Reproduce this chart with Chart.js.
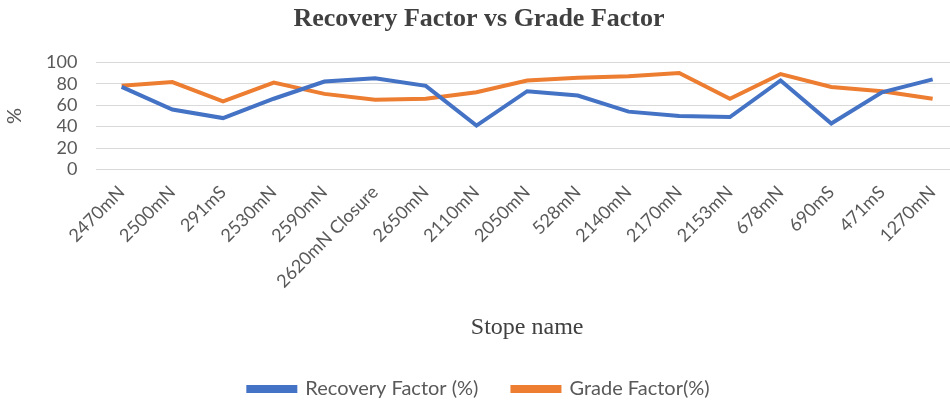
<!DOCTYPE html>
<html>
<head>
<meta charset="utf-8">
<script src="https://cdn.jsdelivr.net/npm/chart.js@4.4.1/dist/chart.umd.min.js"></script>
<style>
  html, body { margin: 0; padding: 0; background: #fff; overflow: hidden; }
  #wrap { width: 960px; height: 402px; }
</style>
</head>
<body>
<div id="wrap"><canvas id="grafico" width="960" height="402"></canvas></div>
<script>
const stopes = ['2470mN', '2500mN', '291mS', '2530mN', '2590mN', '2620mN Closure', '2650mN', '2110mN',
  '2050mN', '528mN', '2140mN', '2170mN', '2153mN', '678mN', '690mS', '471mS', '1270mN']
const recovery = [77, 56, 48, 66, 82, 85, 78, 41, 73, 69, 54, 50, 49, 83, 43, 72, 84]
const grade = [78, 81.5, 63.5, 81, 70.5, 65, 66, 72, 83, 85.5, 87, 90, 66, 89, 77, 73, 66]
const yTicks = [0, 20, 40, 60, 80, 100]

const letra = 'Lato, "Noto Sans", sans-serif'
const gris = '#595959'

// la leyenda queda pegada abajo, con menos alto que el que calcula chart.js
const leyendaAbajo = {
  id: 'leyendaAbajo',
  beforeInit(chart) {
    const fitOriginal = chart.legend.fit
    chart.legend.fit = function () {
      fitOriginal.call(this)
      this.height = 57
    }
  }
}

const ctx = document.getElementById('grafico').getContext('2d')
const myChart = new Chart(ctx, {
  type: 'line',
  data: {
    labels: stopes,
    datasets: [
      {
        label: 'Recovery Factor (%)',
        data: recovery,
        borderColor: '#4472C4',
        backgroundColor: '#4472C4',
        borderWidth: 4,
        pointRadius: 0,
        tension: 0
      },
      {
        label: 'Grade Factor(%)',
        data: grade,
        borderColor: '#ED7D31',
        backgroundColor: '#ED7D31',
        borderWidth: 4,
        pointRadius: 0,
        tension: 0
      }
    ]
  },
  options: {
    responsive: false,
    animation: false,
    layout: { padding: { left: 0, right: 2, top: 4, bottom: 0 } },
    plugins: {
      title: {
        display: true,
        text: 'Recovery Factor vs Grade Factor',
        color: '#404040',
        font: { family: '"Liberation Serif", serif', size: 26, weight: 'bold' },
        padding: { top: 0, bottom: 27 }
      },
      legend: {
        position: 'bottom',
        labels: {
          color: gris,
          font: { family: letra, size: 20 },
          boxWidth: 47,
          boxHeight: 4,
          padding: 34
        }
      },
      tooltip: { enabled: false }
    },
    scales: {
      x: {
        offset: true,
        grid: { display: false },
        border: { display: false },
        ticks: {
          color: gris,
          font: { family: letra, size: 18 },
          minRotation: 45,
          maxRotation: 45,
          autoSkip: false,
          padding: 4
        },
        title: {
          display: true,
          text: 'Stope name',
          color: '#404040',
          font: { family: '"Liberation Serif", serif', size: 24 },
          padding: { top: 17, bottom: 3 }
        }
      },
      y: {
        min: 0,
        max: 100,
        afterBuildTicks: (axis) => { axis.ticks = yTicks.map(v => ({ value: v })) },
        grid: { color: '#d9d9d9', lineWidth: 1, drawTicks: false },
        border: { display: false },
        ticks: {
          color: gris,
          font: { family: letra, size: 18 },
          padding: 19,
          autoSkip: false
        },
        title: {
          display: true,
          text: '%',
          color: gris,
          font: { family: letra, size: 20 },
          padding: { top: 3, bottom: 0 }
        }
      }
    }
  },
  plugins: [leyendaAbajo]
})
</script>
</body>
</html>
